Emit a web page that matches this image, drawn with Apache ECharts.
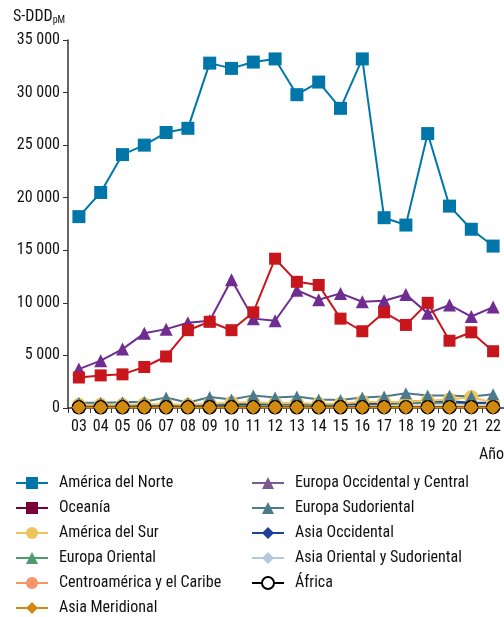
<!DOCTYPE html>
<html>
<head>
<meta charset="utf-8">
<style>
  html, body { margin: 0; padding: 0; background: #fff; }
  #main { width: 504px; height: 617px; }
</style>
<script src="https://cdn.jsdelivr.net/npm/echarts@6/dist/echarts.min.js"></script>
</head>
<body>
<div id="main"></div>
<script>
// años (eje x)
const years = ['03','04','05','06','07','08','09','10','11','12','13','14','15','16','17','18','19','20','21','22'];
const yTicks = [0, 5000, 10000, 15000, 20000, 25000, 30000, 35000];

// valores por región
const americaNorte = [18200, 20500, 24100, 25000, 26200, 26600, 32800, 32300, 32900, 33200, 29800, 31000, 28500, 33200, 18100, 17400, 26100, 19200, 17000, 15400];
const oceania = [2900, 3100, 3200, 3900, 4900, 7400, 8200, 7400, 9100, 14200, 12000, 11700, 8500, 7300, 9100, 7900, 10000, 6400, 7200, 5400];
const americaSur = [300, 300, 300, 350, 350, 300, 400, 500, 550, 450, 450, 400, 400, 600, 550, 600, 700, 800, 1050, 500];
const europaOriental = [150, 150, 150, 150, 200, 200, 250, 250, 300, 300, 300, 250, 300, 350, 350, 450, 500, 500, 450, 500];
const centroamerica = [100, 100, 100, 100, 100, 100, 120, 120, 150, 150, 150, 150, 150, 150, 150, 150, 150, 150, 150, 150];
const asiaMeridional = [40, 40, 40, 40, 40, 40, 40, 40, 40, 40, 40, 40, 40, 40, 40, 40, 40, 40, 40, 40];
const europaOccCentral = [3700, 4500, 5600, 7100, 7500, 8100, 8300, 12200, 8500, 8300, 11200, 10300, 10900, 10100, 10200, 10800, 9000, 9800, 8700, 9600];
const europaSudoriental = [500, 500, 550, 600, 1000, 500, 1050, 800, 1200, 1000, 1100, 800, 750, 1000, 1100, 1400, 1200, 1200, 1100, 1300];
const asiaOccidental = [250, 250, 250, 250, 250, 250, 300, 350, 400, 400, 400, 350, 350, 400, 450, 600, 650, 650, 500, 500];
const asiaOriental = [200, 200, 200, 200, 250, 250, 250, 300, 300, 300, 300, 300, 300, 350, 350, 400, 400, 400, 400, 400];
const africa = [60, 60, 60, 60, 60, 60, 70, 70, 70, 70, 70, 70, 70, 70, 80, 80, 80, 80, 80, 80];

const FONT = "'Liberation Sans Narrow', 'Roboto Condensed', 'Arial Narrow', Roboto, sans-serif";

function fmt(v) {
  return String(v).replace(/\B(?=(\d{3})+(?!\d))/g, ' ');
}

function serie(name, data, color, symbol, size, extra) {
  return Object.assign({
    name: name,
    type: 'line',
    data: data,
    symbol: symbol,
    symbolSize: size,
    showSymbol: true,
    lineStyle: { color: color, width: 2 },
    itemStyle: { color: color },
    emphasis: { disabled: true },
    animation: false
  }, extra || {});
}

var myChart = echarts.init(document.getElementById('main'));

const legendText = { fontFamily: FONT, fontSize: 16, color: '#111', padding: [0, 0, 0, 6] };

const option = {
  title: {
    text: '{a|S-DDD}{b|pM}',
    left: 8,
    top: 3,
    textStyle: {
      rich: {
        a: { fontFamily: FONT, fontSize: 16, color: '#111', fontWeight: 'normal' },
        b: { fontFamily: FONT, fontSize: 10, color: '#111', fontWeight: 'normal', verticalAlign: 'bottom', padding: [7, 0, 0, 0] }
      }
    }
  },
  graphic: [{
    type: 'text',
    right: 0,
    top: 447,
    style: { text: 'Año', font: '16px ' + FONT, fill: '#111' }
  }],
  grid: { left: 68, right: 0, top: 40, bottom: 209 },
  legend: [{
    orient: 'vertical',
    left: 15,
    top: 475,
    height: 142,
    padding: 0,
    itemGap: 9,
    itemWidth: 32,
    itemHeight: 15,
    textStyle: legendText,
    data: [
      'América del Norte',
      { name: 'Oceanía', itemStyle: { color: '#7a0038' }, lineStyle: { color: '#7a0038' } },
      'América del Sur',
      'Europa Oriental',
      'Centroamérica y el Caribe',
      'Asia Meridional'
    ]
  }, {
    orient: 'vertical',
    left: 251,
    top: 475,
    height: 142,
    padding: 0,
    itemGap: 9,
    itemWidth: 32,
    itemHeight: 15,
    textStyle: legendText,
    data: [
      { name: 'Europa Occidental y Central', itemStyle: { color: '#7a5a8f' }, lineStyle: { color: '#7a5a8f' } },
      'Europa Sudoriental',
      'Asia Occidental',
      'Asia Oriental y Sudoriental',
      { name: 'África', itemStyle: { color: '#fff', borderColor: '#000', borderWidth: 2 } }
    ]
  }],
  xAxis: {
    type: 'category',
    data: years,
    boundaryGap: true,
    axisLine: { lineStyle: { color: '#333', width: 1.5 } },
    axisTick: { show: true, length: 5, lineStyle: { color: '#333' } },
    axisLabel: { fontFamily: FONT, fontSize: 16, color: '#111', margin: 11, interval: 0 }
  },
  yAxis: {
    type: 'value',
    min: 0,
    max: 35000,
    interval: 5000,
    splitLine: { show: false },
    axisLine: { show: true, lineStyle: { color: '#333', width: 1.5 } },
    axisTick: { show: true, length: 5, lineStyle: { color: '#333' } },
    axisLabel: {
      fontFamily: FONT, fontSize: 16, color: '#111', margin: 8,
      formatter: function (v) { return yTicks.indexOf(v) >= 0 ? fmt(v) : ''; }
    }
  },
  series: [
    serie('Asia Oriental y Sudoriental', asiaOriental, '#b5c7d8', 'diamond', 12),
    serie('Centroamérica y el Caribe', centroamerica, '#f4956a', 'circle', 12),
    serie('Europa Oriental', europaOriental, '#4f9a6e', 'triangle', 12),
    serie('Asia Occidental', asiaOccidental, '#1f3f99', 'diamond', 12),
    serie('América del Sur', americaSur, '#f0c45c', 'circle', 14),
    serie('Europa Sudoriental', europaSudoriental, '#4a7a8c', 'triangle', 12),
    serie('Europa Occidental y Central', europaOccCentral, '#6f2c91', 'triangle', 13),
    serie('Oceanía', oceania, '#c8161d', 'rect', 12),
    serie('América del Norte', americaNorte, '#0077a8', 'rect', 13),
    serie('África', africa, '#000', 'circle', 13, {
      itemStyle: { color: '#d08a10', borderColor: '#000', borderWidth: 1.5 },
      lineStyle: { color: '#000', width: 2 }
    }),
    serie('Asia Meridional', asiaMeridional, '#d08a10', 'diamond', 14)
  ]
};

myChart.setOption(option);
</script>
</body>
</html>
